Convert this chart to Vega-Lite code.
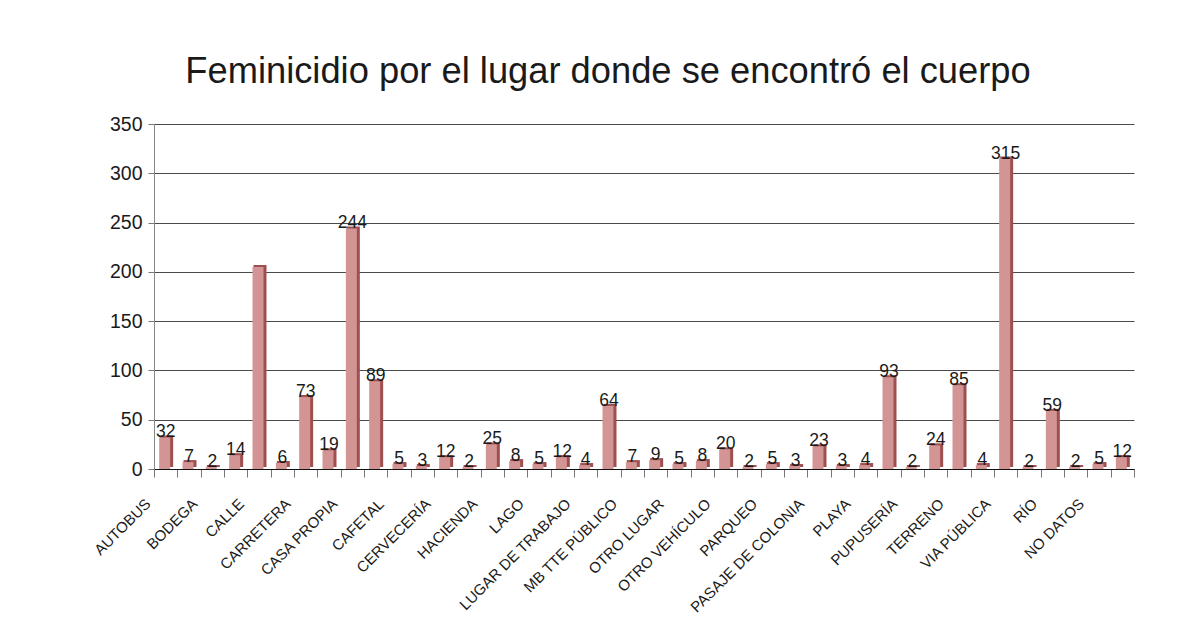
{
  "$schema": "https://vega.github.io/schema/vega-lite/v6.json",
  "autosize": {"type": "none"},
  "padding": {"left": 154, "top": 124, "right": 54, "bottom": 150},
  "width": 980,
  "height": 345,
  "background": "white",
  "title": {
    "text": "Feminicidio por el lugar donde se encontró el cuerpo",
    "font": "Liberation Sans",
    "fontSize": 36.3,
    "fontWeight": "normal",
    "color": "#1a1a1a",
    "anchor": "middle",
    "dx": -36,
    "offset": 24
  },
  "data": {
    "values": [
      {"lugar": "AUTOBUS", "casos": 32},
      {"lugar": "(2)", "casos": 7},
      {"lugar": "BODEGA", "casos": 2},
      {"lugar": "(4)", "casos": 14},
      {"lugar": "CALLE", "casos": 205},
      {"lugar": "(6)", "casos": 6},
      {"lugar": "CARRETERA", "casos": 73},
      {"lugar": "(8)", "casos": 19},
      {"lugar": "CASA PROPIA", "casos": 244},
      {"lugar": "(10)", "casos": 89},
      {"lugar": "CAFETAL", "casos": 5},
      {"lugar": "(12)", "casos": 3},
      {"lugar": "CERVECERÍA", "casos": 12},
      {"lugar": "(14)", "casos": 2},
      {"lugar": "HACIENDA", "casos": 25},
      {"lugar": "(16)", "casos": 8},
      {"lugar": "LAGO", "casos": 5},
      {"lugar": "(18)", "casos": 12},
      {"lugar": "LUGAR DE TRABAJO", "casos": 4},
      {"lugar": "(20)", "casos": 64},
      {"lugar": "MB TTE PÚBLICO", "casos": 7},
      {"lugar": "(22)", "casos": 9},
      {"lugar": "OTRO LUGAR", "casos": 5},
      {"lugar": "(24)", "casos": 8},
      {"lugar": "OTRO VEHÍCULO", "casos": 20},
      {"lugar": "(26)", "casos": 2},
      {"lugar": "PARQUEO", "casos": 5},
      {"lugar": "(28)", "casos": 3},
      {"lugar": "PASAJE DE COLONIA", "casos": 23},
      {"lugar": "(30)", "casos": 3},
      {"lugar": "PLAYA", "casos": 4},
      {"lugar": "(32)", "casos": 93},
      {"lugar": "PUPUSERÍA", "casos": 2},
      {"lugar": "(34)", "casos": 24},
      {"lugar": "TERRENO", "casos": 85},
      {"lugar": "(36)", "casos": 4},
      {"lugar": "VIA PÚBLICA", "casos": 315},
      {"lugar": "(38)", "casos": 2},
      {"lugar": "RÍO", "casos": 59},
      {"lugar": "(40)", "casos": 2},
      {"lugar": "NO DATOS", "casos": 5},
      {"lugar": "(42)", "casos": 12}
    ]
  },
  "encoding": {
    "x": {
      "field": "lugar",
      "type": "nominal",
      "sort": null,
      "scale": {"paddingInner": 0, "paddingOuter": 0},
      "axis": {
        "title": null,
        "labelExpr": "substring(datum.label, 0, 1) == '(' ? '' : datum.label",
        "labelAngle": -45,
        "labelAlign": "right",
        "labelBaseline": "top",
        "labelOffset": -23,
        "labelPadding": 19,
        "labelFont": "Liberation Sans",
        "labelFontSize": 15,
        "labelColor": "#1a1a1a",
        "labelOverlap": false,
        "labelLimit": 300,
        "tickBand": "extent",
        "tickSize": 8,
        "tickColor": "#777777",
        "domainColor": "#111111",
        "grid": false
      }
    },
    "y": {
      "field": "casos",
      "type": "quantitative",
      "scale": {"domain": [0, 350], "nice": false},
      "axis": {
        "title": null,
        "values": [0, 50, 100, 150, 200, 250, 300, 350],
        "labelFont": "Liberation Sans",
        "labelFontSize": 19.5,
        "labelColor": "#1a1a1a",
        "labelPadding": 6,
        "tickSize": 6,
        "tickColor": "#777777",
        "domainColor": "#888888",
        "gridColor": "#4a4a4a",
        "gridWidth": 1
      }
    }
  },
  "layer": [
    {"mark": {"type": "bar", "width": 13, "xOffset": 1, "yOffset": -2, "color": "#9e4f4f"}},
    {"mark": {"type": "bar", "width": 11, "xOffset": -1, "color": "#d39494"}},
    {
      "transform": [{"filter": "datum.lugar != 'CALLE'"}],
      "mark": {"type": "text", "font": "Liberation Sans", "fontSize": 17.5, "baseline": "alphabetic", "dy": 0, "color": "#1a1a1a"},
      "encoding": {"text": {"field": "casos", "type": "quantitative"}}
    }
  ],
  "config": {"view": {"stroke": null}}
}
